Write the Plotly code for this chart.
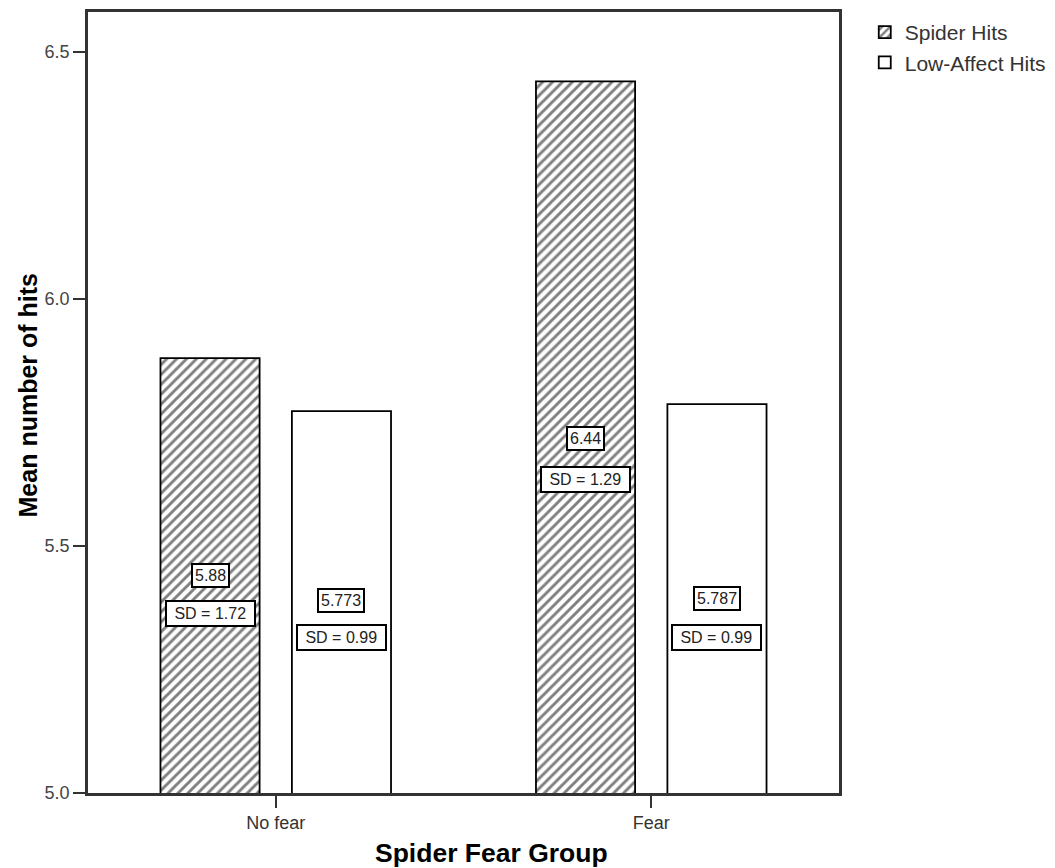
import plotly.graph_objects as go

groups = ["No fear", "Fear"]
spider_hits = [5.88, 6.44]
low_affect_hits = [5.773, 5.787]
spider_labels = ["5.88", "6.44"]
low_labels = ["5.773", "5.787"]
spider_sd = ["SD = 1.72", "SD = 1.29"]
low_sd = ["SD = 0.99", "SD = 0.99"]
# label positions (data y)
spider_label_y = [5.44, 5.718]
spider_sd_y = [5.363, 5.635]
low_label_y = [5.389, 5.393]
low_sd_y = [5.315, 5.315]

BW = 0.264
OFF_S = -0.307
OFF_L = 0.043
FONT = "Liberation Sans, Arial, sans-serif"

fig = go.Figure()
fig.add_trace(go.Bar(
    name="Spider Hits", x=groups, y=spider_hits, base=0,
    width=BW, offset=OFF_S,
    marker=dict(color="white", line=dict(color="black", width=1.8),
                pattern=dict(shape="/", fgcolor="black", bgcolor="white", size=7, solidity=0.42)),
))
fig.add_trace(go.Bar(
    name="Low-Affect Hits", x=groups, y=low_affect_hits, base=0,
    width=BW, offset=OFF_L,
    marker=dict(color="white", line=dict(color="black", width=1.8)),
))

ann_font = dict(family=FONT, size=16, color="#222222")
for i, g in enumerate(groups):
    xs = i + OFF_S + BW / 2
    xl = i + OFF_L + BW / 2
    for x, y, t, pad in [(xs, spider_label_y[i], spider_labels[i], 2),
                         (xs, spider_sd_y[i], "&nbsp;" + spider_sd[i] + "&nbsp;", 3),
                         (xl, low_label_y[i], low_labels[i], 2),
                         (xl, low_sd_y[i], "&nbsp;" + low_sd[i] + "&nbsp;", 3)]:
        fig.add_annotation(x=x, y=y, xref="x", yref="y", text=t, showarrow=False,
                           font=ann_font, bgcolor="white", bordercolor="black",
                           borderwidth=2, borderpad=pad)

# axis titles placed as in the reference (slightly off-centre)
fig.add_annotation(x=0.537, y=-0.0765, xref="paper", yref="paper",
                   text="<b>Spider Fear Group</b>", showarrow=False,
                   font=dict(family=FONT, size=26.5, color="black"),
                   xanchor="center", yanchor="middle")
fig.add_annotation(x=-0.0799, y=0.509, xref="paper", yref="paper",
                   text="<b>Mean number of hits</b>", showarrow=False, textangle=-90,
                   font=dict(family=FONT, size=25, color="black"),
                   xanchor="center", yanchor="middle")

fig.update_layout(
    width=1047, height=860,
    margin=dict(l=80, r=216, t=1, b=75),
    paper_bgcolor="white", plot_bgcolor="white",
    barmode="overlay",
    font=dict(family=FONT, size=18, color="#333333"),
    showlegend=True,
    legend=dict(x=1.0343, y=1.0, xanchor="left", yanchor="top",
                font=dict(size=21, color="#333333"), traceorder="normal",
                bgcolor="rgba(0,0,0,0)", tracegroupgap=0),
)
fig.update_xaxes(
    type="category", range=[-0.5, 1.5],
    showline=True, linecolor="#333333", linewidth=2.5, mirror=True,
    ticks="outside", ticklen=12, tickwidth=2, tickcolor="#333333",
    tickfont=dict(size=18, color="#333333"),
    showgrid=False, zeroline=False,
)
fig.update_yaxes(
    range=[5.0, 6.5806],
    tickvals=[5.0, 5.5, 6.0, 6.5], ticktext=["5.0", "5.5", "6.0", "6.5"],
    showline=True, linecolor="#333333", linewidth=2.5, mirror=True,
    ticks="outside", ticklen=12, tickwidth=2, tickcolor="#333333",
    tickfont=dict(size=18, color="#444444"),
    showgrid=False, zeroline=False,
)

fig.write_html("out.html")
